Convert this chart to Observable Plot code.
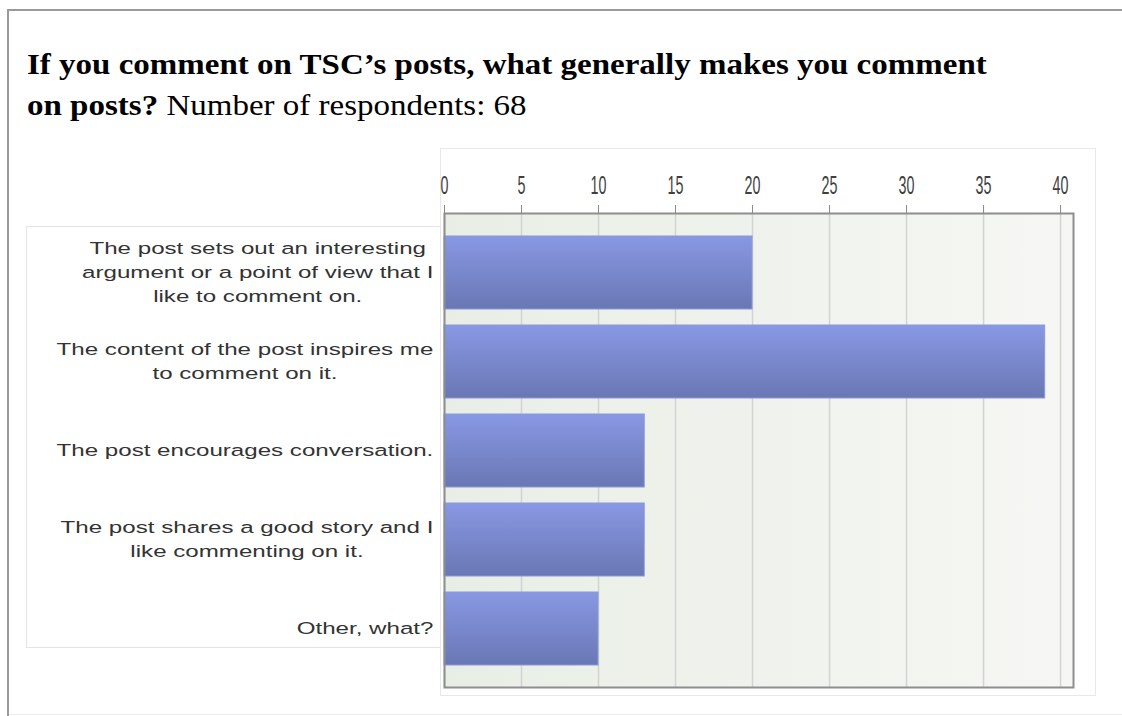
<!DOCTYPE html>
<html><head><meta charset="utf-8">
<script src="https://cdn.jsdelivr.net/npm/d3@7"></script>
<script src="https://cdn.jsdelivr.net/npm/@observablehq/plot@0.6"></script>
<style>
html,body{margin:0;padding:0;background:#fff;width:1122px;height:716px;overflow:hidden;position:relative}
#frame{position:absolute;left:7px;top:9px;width:1130px;height:720px;border-left:2px solid #9a9a9a;border-top:2px solid #9a9a9a}
#bottomline{position:absolute;left:9px;right:0;top:714px;height:1px;background:#ececec}
#title{position:absolute;left:27px;top:43px;font-family:"Liberation Serif","Times New Roman",serif;font-size:30px;line-height:41px;color:#000;transform-origin:0 0;transform:scaleX(1.1);white-space:nowrap}
#title .n{font-weight:normal}
#plotbox{position:absolute;left:440px;top:148px;width:654px;height:546px;border:1px solid #e8e8e8;background:#fff}
#labelbox{position:absolute;left:26px;top:226px;width:413px;height:420px;border:1px solid #e4e4e4;border-right:none;background:#fff}
#chart{position:absolute;left:0;top:140px}
</style></head><body>
<div id="frame"></div>
<div id="bottomline"></div>
<div id="title"><b>If you comment on TSC’s posts, what generally makes you comment<br>on posts?</b><span class="n"> Number of respondents: 68</span></div>
<div id="plotbox"></div>
<div id="labelbox"></div>
<div id="chart"></div>
<script>
// ---- data ----
const categories = [
  "The post sets out an interesting argument or a point of view that I like to comment on.",
  "The content of the post inspires me to comment on it.",
  "The post encourages conversation.",
  "The post shares a good story and I like commenting on it.",
  "Other, what?"
];
const labelLines = [
  "The post sets out an interesting\nargument or a point of view that I\nlike to comment on.",
  "The content of the post inspires me\nto comment on it.",
  "The post encourages conversation.",
  "The post shares a good story and I\nlike commenting on it.",
  "Other, what?"
];
const values = [20, 39, 13, 13, 10];
const ticks = [0, 5, 10, 15, 20, 25, 30, 35, 40];

const data = categories.map((c, i) => ({category: c, label: labelLines[i], value: values[i]}));

function defsMark() {
  const ns = "http://www.w3.org/2000/svg";
  const g = document.createElementNS(ns, "g");
  g.innerHTML = `<defs>
    <linearGradient id="barGrad" x1="0" y1="0" x2="0" y2="1">
      <stop offset="0" stop-color="#8898e3"/>
      <stop offset="1" stop-color="#6a77b5"/>
    </linearGradient>
    <linearGradient id="bgGrad" x1="0" y1="0" x2="1" y2="0">
      <stop offset="0" stop-color="#e8eee5"/>
      <stop offset="1" stop-color="#f6f7f4"/>
    </linearGradient>
  </defs>`;
  return g;
}

const plot = Plot.plot({
  width: 1122,
  height: 576,
  marginTop: 73,
  marginBottom: 29,
  marginLeft: 444,
  marginRight: 49,
  style: {background: "transparent", fontFamily: "'Liberation Sans', Arial, sans-serif", overflow: "visible"},
  x: {domain: [0, 40.84], axis: null},
  y: {domain: categories, axis: null, paddingInner: 0.185, paddingOuter: 0.24},
  marks: [
    defsMark,
    Plot.frame({fill: "url(#bgGrad)", stroke: null}),
    Plot.gridX(ticks, {stroke: "#d3d3d3", strokeOpacity: 1, strokeWidth: 1.5}),
    Plot.barX(data, {x: "value", y: "category", fill: "url(#barGrad)", stroke: "#8a98dc", strokeWidth: 1}),
    Plot.axisX(ticks, {anchor: "top", tickSize: 9, tickPadding: 11, fontSize: 26, color: "#3f3f3f", stroke: "#888", label: null, tickFormat: d => String(d)}),
    Plot.text(data, {y: "category", text: "label", frameAnchor: "left", textAnchor: "middle", lineAnchor: "middle", lineHeight: 1.41, fontSize: 17, dy: -3, fill: "#333"}),
    Plot.frame({stroke: "#8e8e8e", strokeWidth: 2})
  ]
});
document.getElementById("chart").append(plot);

const isNum = s => s != null && /^\s*-?[\d.]+(e-?\d+)?\s*$/.test(s);
function pos(el) {
  const m = /translate\(\s*([-\d.e]+)[ ,]+([-\d.e]+)\s*\)/.exec(el.getAttribute("transform") || "");
  let x = m ? +m[1] : 0, y = m ? +m[2] : 0;
  if (isNum(el.getAttribute("x"))) { x += +el.getAttribute("x"); el.removeAttribute("x"); }
  if (isNum(el.getAttribute("y"))) { y += +el.getAttribute("y"); el.removeAttribute("y"); }
  return [x, y];
}
// horizontal scaling of y labels (block right-aligned, lines centered)
const sxL = 1.42, rightEdge = 433;
plot.querySelectorAll('g[aria-label="text"] > text').forEach(el => {
  const [, ty] = pos(el);
  el.setAttribute("transform", `translate(0,${ty})`);
  const bb = el.getBBox();
  const cx = bb.x + bb.width / 2;
  el.setAttribute("transform", `translate(${rightEdge - bb.width * sxL / 2 - cx * sxL},${ty}) scale(${sxL},1)`);
});
// condensed tick labels
plot.querySelectorAll('g[aria-label="x-axis tick label"] text').forEach(el => {
  const [tx, ty] = pos(el);
  el.setAttribute("transform", `translate(${tx},${ty}) scale(0.55,1)`);
});
</script>
</body></html>
